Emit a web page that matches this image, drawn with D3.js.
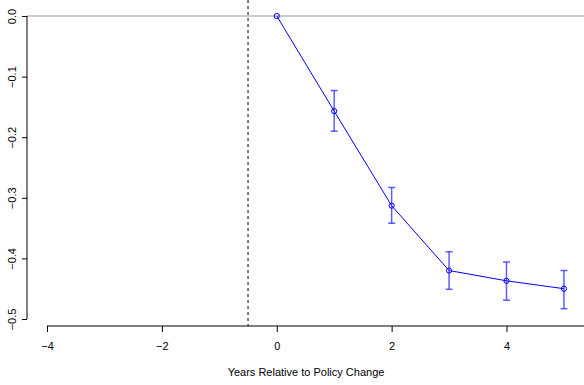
<!DOCTYPE html>
<html><head><meta charset="utf-8">
<script src="https://cdn.jsdelivr.net/npm/d3@7"></script>
<style>body{margin:0;background:#fff}svg{display:block}text{font-family:"Liberation Sans",Arial,sans-serif}</style>
</head><body>
<script>
const years = [0, 1, 2, 3, 4, 5];
const estimates = [0, -0.157, -0.313, -0.420, -0.437, -0.450];
const ciLower = [null, -0.190, -0.342, -0.451, -0.469, -0.483];
const ciUpper = [null, -0.123, -0.283, -0.389, -0.406, -0.420];
const xTicks = [-4, -2, 0, 2, 4];
const yTicks = [0, -0.1, -0.2, -0.3, -0.4, -0.5];
const policyLine = -0.5;
const xLabel = "Years Relative to Policy Change";

const W = 584, H = 385;
const svg = d3.select("body").append("svg").attr("width", W).attr("height", H);
const x = d3.scaleLinear().domain([-4, 4]).range([47, 506.5]);
const y = d3.scaleLinear().domain([0, -0.5]).range([16, 319]);
const plotLeft = 27, plotBottom = 326, plotRight = 640;

// reference line at 0
svg.append("line").attr("x1", plotLeft).attr("x2", W).attr("y1", y(0)).attr("y2", y(0))
  .attr("stroke", "#999").attr("stroke-width", 1);
// dashed policy line
svg.append("line").attr("x1", x(policyLine)).attr("x2", x(policyLine)).attr("y1", 0).attr("y2", plotBottom)
  .attr("stroke", "#000").attr("stroke-width", 1).attr("stroke-dasharray", "3,3");

// x axis
const xAxis = svg.append("g").attr("transform", `translate(0,${plotBottom})`)
  .call(d3.axisBottom(x).tickValues(xTicks).tickSize(6).tickPadding(10).tickFormat(d => d < 0 ? "\u2212" + Math.abs(d) : d));
xAxis.select(".domain").attr("d", `M${x(-4)},0H${plotRight}`);
xAxis.selectAll("text").attr("font-size", 11).attr("font-family", "Liberation Sans, Arial, sans-serif").attr("fill", "#000");
xAxis.selectAll("line,path").attr("stroke", "#000");

// y axis
const yAxis = svg.append("g").attr("transform", `translate(${plotLeft},0)`)
  .call(d3.axisLeft(y).tickValues(yTicks).tickSize(5).tickFormat(d => d === 0 ? "0.0" : "\u2212" + Math.abs(d).toFixed(1)));
yAxis.select(".domain").attr("d", `M0,${y(0)}V${y(-0.5)}`);
yAxis.selectAll("line,path").attr("stroke", "#000");
yAxis.selectAll("text").attr("font-size", 11).attr("font-family", "Liberation Sans, Arial, sans-serif").attr("fill", "#000")
  .attr("x", null).attr("dy", null)
  .attr("text-anchor", "middle")
  .attr("transform", "translate(-15,0) rotate(-90)")
  .attr("dominant-baseline", "central");

// x label
svg.append("text").attr("x", 306).attr("y", 376).attr("text-anchor", "middle")
  .attr("font-size", 11).text(xLabel);

// line
const data = years.map((d, i) => ({x: d, y: estimates[i], lo: ciLower[i], hi: ciUpper[i]}));
svg.append("path").datum(data).attr("fill", "none").attr("stroke", "#0000ff").attr("stroke-width", 1)
  .attr("d", d3.line().x(d => x(d.x)).y(d => y(d.y)));

// error bars
const eb = svg.append("g").attr("stroke", "rgba(40,40,255,0.75)").attr("stroke-width", 1.5);
data.filter(d => d.lo !== null).forEach(d => {
  const cx = x(d.x);
  eb.append("line").attr("x1", cx).attr("x2", cx).attr("y1", y(d.hi)).attr("y2", y(d.lo));
  eb.append("line").attr("x1", cx - 3.5).attr("x2", cx + 3.5).attr("y1", y(d.hi)).attr("y2", y(d.hi));
  eb.append("line").attr("x1", cx - 3.5).attr("x2", cx + 3.5).attr("y1", y(d.lo)).attr("y2", y(d.lo));
});

// points
svg.append("g").selectAll("circle").data(data).join("circle")
  .attr("cx", d => x(d.x)).attr("cy", d => y(d.y)).attr("r", 2.6)
  .attr("fill", "none").attr("stroke", "#0000ff").attr("stroke-width", 1);
</script>
</body></html>
